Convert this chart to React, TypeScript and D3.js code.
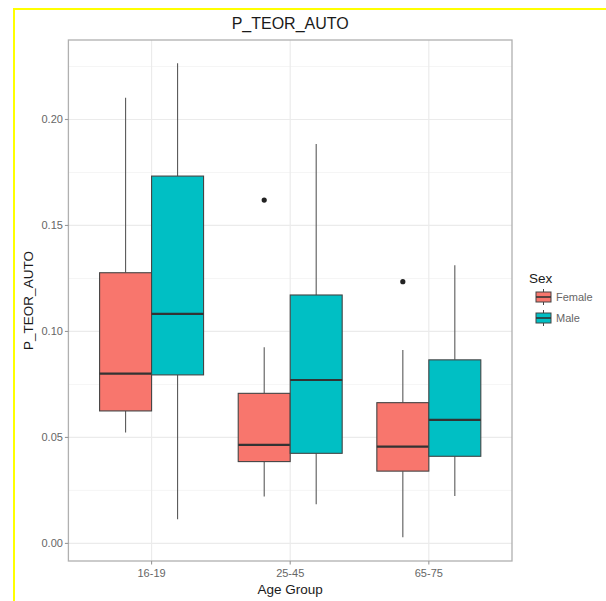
import React, { useEffect, useRef } from "react";
import * as d3 from "d3";

// age groups on the x axis
const categories = ["16-19", "25-45", "65-75"];
const sexes = ["Female", "Male"];
const sexColors = ["#F8766D", "#00BFC4"];

// box stats (per age group)
const femaleLow = [0.0523, 0.0221, 0.0029];
const femaleQ1 = [0.0625, 0.0386, 0.0341];
const femaleMedian = [0.0801, 0.0465, 0.0457];
const femaleQ3 = [0.1277, 0.0708, 0.0664];
const femaleHigh = [0.2103, 0.0925, 0.0913];
const femaleOutliers = [[], [0.162], [0.1235]];

const maleLow = [0.0114, 0.0185, 0.0224];
const maleQ1 = [0.0795, 0.0425, 0.0411];
const maleMedian = [0.1083, 0.0771, 0.0583];
const maleQ3 = [0.1733, 0.1172, 0.0866];
const maleHigh = [0.2265, 0.1884, 0.1312];
const maleOutliers = [[], [], []];

const yTicks = [0, 0.05, 0.1, 0.15, 0.2];
const yMinorTicks = [0.025, 0.075, 0.125, 0.175, 0.225];

function App() {
  const ref = useRef(null);

  useEffect(() => {
    drawChart();
  }, []);

  function drawChart() {
    const width = 606;
    const height = 601;
    const margin = { top: 40, right: 94, bottom: 40, left: 68.4 };
    const font = "'Liberation Sans', Arial, Helvetica, sans-serif";

    const svg = d3.select(ref.current);
    svg.selectAll("*").remove();

    // yellow frame (left + top edges visible)
    svg
      .append("rect")
      .attr("x", 14)
      .attr("y", 9)
      .attr("width", width)
      .attr("height", height)
      .attr("fill", "white")
      .attr("stroke", "#ffff00")
      .attr("stroke-width", 2);

    const x = d3
      .scaleBand()
      .domain(categories)
      .range([margin.left, width - margin.right])
      .paddingInner(0)
      .paddingOuter(0.1);
    const step = x.step();

    const y = d3
      .scaleLinear()
      .domain([-0.0083, 0.2375])
      .range([height - margin.bottom, margin.top]);

    const left = margin.left;
    const right = width - margin.right;
    const top = margin.top;
    const bottom = height - margin.bottom;

    // grid
    const grid = svg.append("g");
    grid
      .selectAll(".minor")
      .data(yMinorTicks)
      .join("line")
      .attr("x1", left)
      .attr("x2", right)
      .attr("y1", (d) => y(d))
      .attr("y2", (d) => y(d))
      .attr("stroke", "#f2f2f2")
      .attr("stroke-width", 0.8);
    grid
      .selectAll(".major")
      .data(yTicks)
      .join("line")
      .attr("x1", left)
      .attr("x2", right)
      .attr("y1", (d) => y(d))
      .attr("y2", (d) => y(d))
      .attr("stroke", "#ebebeb")
      .attr("stroke-width", 1.2);
    grid
      .selectAll(".vmajor")
      .data(categories)
      .join("line")
      .attr("x1", (d) => x(d) + step / 2)
      .attr("x2", (d) => x(d) + step / 2)
      .attr("y1", top)
      .attr("y2", bottom)
      .attr("stroke", "#ebebeb")
      .attr("stroke-width", 1.2);

    const series = [
      { low: femaleLow, q1: femaleQ1, med: femaleMedian, q3: femaleQ3, high: femaleHigh, out: femaleOutliers },
      { low: maleLow, q1: maleQ1, med: maleMedian, q3: maleQ3, high: maleHigh, out: maleOutliers },
    ];

    const boxes = svg.append("g");
    categories.forEach((cat, ci) => {
      const center = x(cat) + step / 2;
      const dodge = d3
        .scaleBand()
        .domain(sexes)
        .range([center - 0.375 * step, center + 0.375 * step]);
      sexes.forEach((sex, si) => {
        const s = series[si];
        const bx = dodge(sex);
        const bw = dodge.bandwidth();
        const cx = bx + bw / 2;
        const g = boxes.append("g");
        // whiskers
        g.append("line")
          .attr("x1", cx)
          .attr("x2", cx)
          .attr("y1", y(s.high[ci]))
          .attr("y2", y(s.q3[ci]))
          .attr("stroke", "#5a5a5a")
          .attr("stroke-width", 1.1);
        g.append("line")
          .attr("x1", cx)
          .attr("x2", cx)
          .attr("y1", y(s.q1[ci]))
          .attr("y2", y(s.low[ci]))
          .attr("stroke", "#5a5a5a")
          .attr("stroke-width", 1.1);
        // box
        g.append("rect")
          .attr("x", bx)
          .attr("y", y(s.q3[ci]))
          .attr("width", bw)
          .attr("height", y(s.q1[ci]) - y(s.q3[ci]))
          .attr("fill", sexColors[si])
          .attr("stroke", "#444")
          .attr("stroke-width", 1.1);
        // median
        g.append("line")
          .attr("x1", bx)
          .attr("x2", bx + bw)
          .attr("y1", y(s.med[ci]))
          .attr("y2", y(s.med[ci]))
          .attr("stroke", "#333")
          .attr("stroke-width", 2.2);
        // outliers
        g.selectAll("circle")
          .data(s.out[ci])
          .join("circle")
          .attr("cx", cx)
          .attr("cy", (d) => y(d))
          .attr("r", 2.6)
          .attr("fill", "#222");
      });
    });

    // panel border
    svg
      .append("rect")
      .attr("x", left)
      .attr("y", top)
      .attr("width", right - left)
      .attr("height", bottom - top)
      .attr("fill", "none")
      .attr("stroke", "#b0b0b0")
      .attr("stroke-width", 1.3);

    // y axis
    const yAxis = svg.append("g");
    yTicks.forEach((t) => {
      yAxis
        .append("line")
        .attr("x1", left - 3.5)
        .attr("x2", left)
        .attr("y1", y(t))
        .attr("y2", y(t))
        .attr("stroke", "#999")
        .attr("stroke-width", 1.1);
      yAxis
        .append("text")
        .attr("x", left - 5.5)
        .attr("y", y(t))
        .attr("dy", "0.35em")
        .attr("text-anchor", "end")
        .attr("font-family", font)
        .attr("font-size", 11)
        .attr("fill", "#666")
        .text(d3.format(".2f")(t));
    });

    // x axis
    const xAxis = svg.append("g");
    categories.forEach((c) => {
      const cx = x(c) + step / 2;
      xAxis
        .append("line")
        .attr("x1", cx)
        .attr("x2", cx)
        .attr("y1", bottom)
        .attr("y2", bottom + 3.5)
        .attr("stroke", "#999")
        .attr("stroke-width", 1.1);
      xAxis
        .append("text")
        .attr("x", cx)
        .attr("y", bottom + 16)
        .attr("text-anchor", "middle")
        .attr("font-family", font)
        .attr("font-size", 11)
        .attr("fill", "#666")
        .text(c);
    });

    // titles
    svg
      .append("text")
      .attr("x", (left + right) / 2)
      .attr("y", 29)
      .attr("text-anchor", "middle")
      .attr("font-family", font)
      .attr("font-size", 16)
      .attr("fill", "#1a1a1a")
      .text("P_TEOR_AUTO");
    svg
      .append("text")
      .attr("x", (left + right) / 2)
      .attr("y", 594)
      .attr("text-anchor", "middle")
      .attr("font-family", font)
      .attr("font-size", 13.5)
      .attr("fill", "#1a1a1a")
      .text("Age Group");
    svg
      .append("text")
      .attr("transform", `translate(33,${(top + bottom) / 2}) rotate(-90)`)
      .attr("text-anchor", "middle")
      .attr("font-family", font)
      .attr("font-size", 13.5)
      .attr("fill", "#1a1a1a")
      .text("P_TEOR_AUTO");

    // legend
    const legend = svg.append("g").attr("transform", "translate(535,0)");
    legend
      .append("text")
      .attr("x", -6)
      .attr("y", 283)
      .attr("font-family", font)
      .attr("font-size", 13.5)
      .attr("fill", "#1a1a1a")
      .text("Sex");
    sexes.forEach((sex, i) => {
      const cy = 297 + i * 21;
      const k = legend.append("g");
      k.append("line")
        .attr("x1", 8.5)
        .attr("x2", 8.5)
        .attr("y1", cy - 8)
        .attr("y2", cy + 8)
        .attr("stroke", "#444")
        .attr("stroke-width", 1);
      k.append("rect")
        .attr("x", 1)
        .attr("y", cy - 5)
        .attr("width", 15)
        .attr("height", 10)
        .attr("fill", sexColors[i])
        .attr("stroke", "#444")
        .attr("stroke-width", 1);
      k.append("line")
        .attr("x1", 1)
        .attr("x2", 16)
        .attr("y1", cy)
        .attr("y2", cy)
        .attr("stroke", "#333")
        .attr("stroke-width", 1.6);
      k.append("text")
        .attr("x", 21)
        .attr("y", cy)
        .attr("dy", "0.35em")
        .attr("font-family", font)
        .attr("font-size", 11)
        .attr("fill", "#666")
        .text(sex);
    });
  }

  return (
    <svg
      ref={ref}
      width={606}
      height={601}
      style={{ position: "absolute", left: 0, top: 0, background: "white" }}
    />
  );
}

export default App;
